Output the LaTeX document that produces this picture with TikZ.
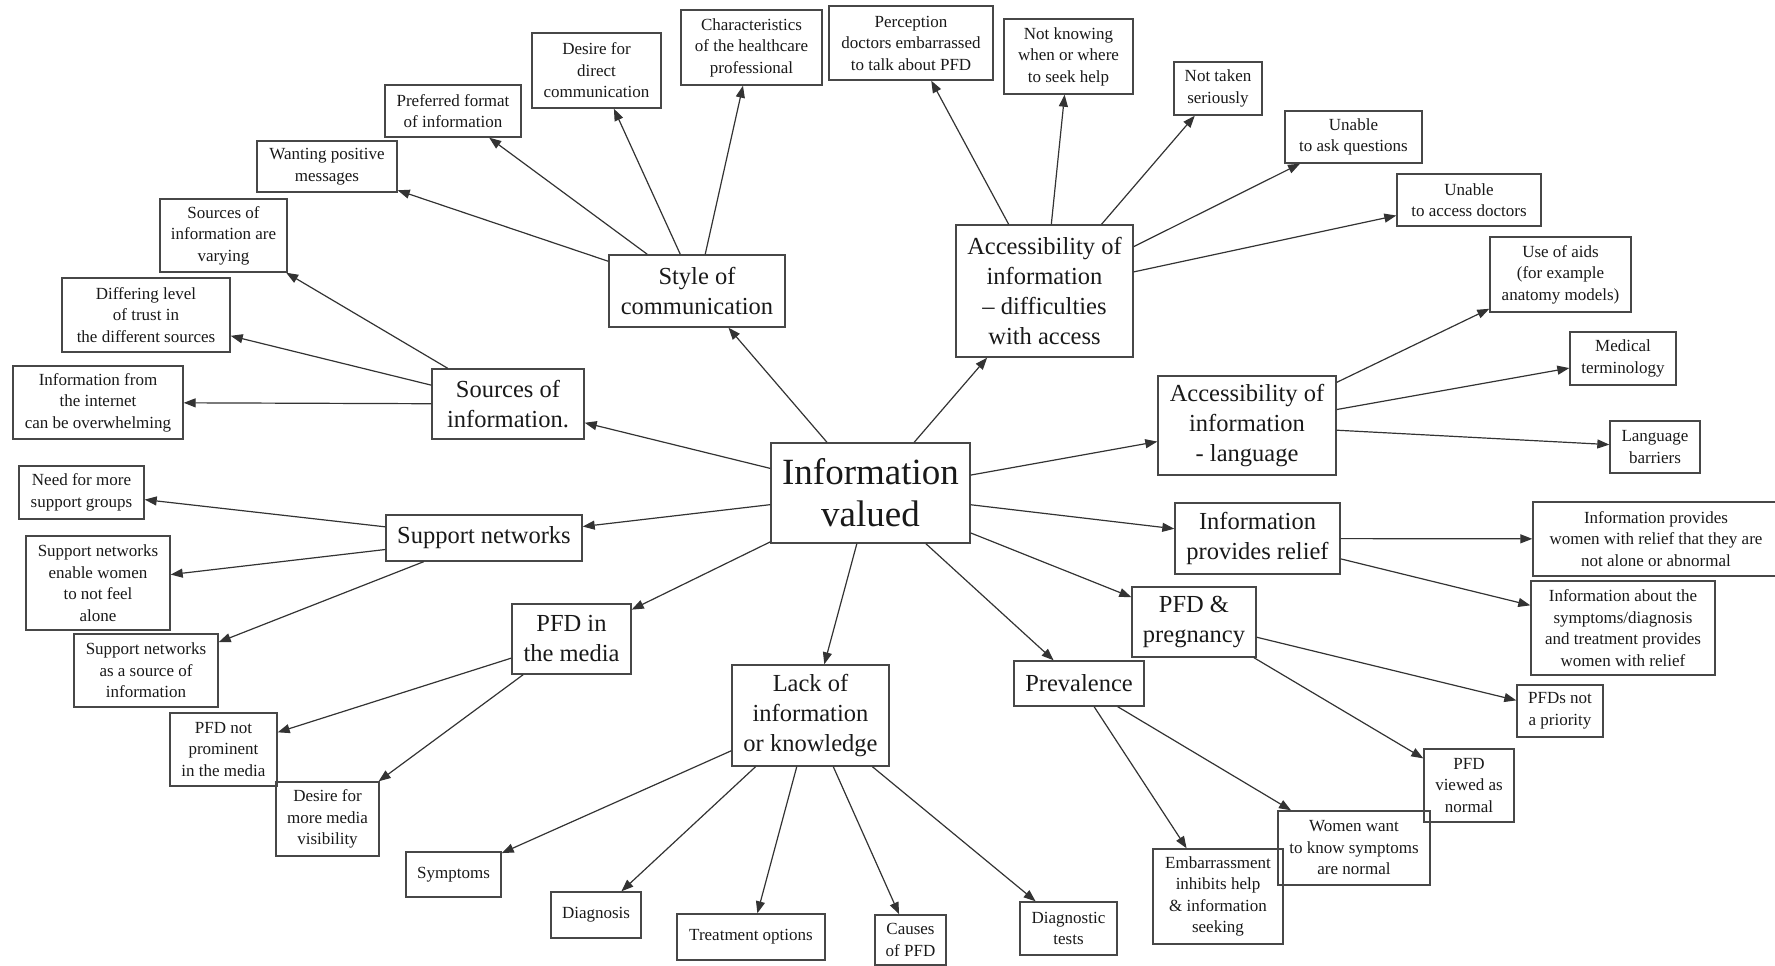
\documentclass[tikz,border=0pt]{standalone}
\usepackage{fontspec}
\setmainfont{Liberation Serif}
\usetikzlibrary{arrows.meta}
\begin{document}
\begin{tikzpicture}[x=1pt,y=-1pt,
  box/.style={draw=black!72, line width=1.4pt, align=center, inner sep=1pt, text=black!90},
  sm/.style={box, font=\fontsize{17}{21.5}\selectfont},
  md/.style={box, font=\fontsize{24.5}{30}\selectfont},
  bg/.style={box, font=\fontsize{37}{42}\selectfont},
  sz/.style 2 args={minimum width=#1pt, minimum height=#2pt},
  arr/.style={draw=black!80, line width=1.2pt, -{Triangle[length=12pt,width=9pt]}}]
\useasboundingbox (0,0) rectangle (1775,966);
% main
\node[bg, sz={199}{100}] (center) at (870.5,493) {Information\\valued};
% first level
\node[md, sz={152}{70}] (sources) at (508,404) {Sources of\\information.};
\node[md, sz={176}{72}] (style) at (697,291) {Style of\\communication};
\node[md, sz={177}{132}] (accdiff) at (1044.5,291) {Accessibility of\\information\\– difficulties\\with access};
\node[md, sz={178}{99}] (acclang) at (1247,425.5) {Accessibility of\\information\\- language};
\node[md, sz={165}{71}] (relief) at (1257.5,538.5) {Information\\provides relief};
\node[md, sz={124}{70}] (preg) at (1194,622) {PFD \&\\pregnancy};
\node[md, sz={130}{45}] (prev) at (1079,683.5) {Prevalence};
\node[md, sz={157}{101}] (lack) at (810.5,715.5) {Lack of\\information\\or knowledge};
\node[md, sz={119}{70}] (media) at (571.5,639) {PFD in\\the media};
\node[md, sz={196}{46}] (support) at (484,538) {Support networks};
% second level
\node[sm, sz={170}{73}] (internet) at (98,402.5) {Information from\\the internet\\can be overwhelming};
\node[sm, sz={168}{74}] (differing) at (146,315) {Differing level\\of trust in\\the different sources};
\node[sm, sz={127}{73}] (varying) at (223.5,235.5) {Sources of\\information are\\varying};
\node[sm, sz={140}{51}] (wantpos) at (327,166.5) {Wanting positive\\messages};
\node[sm, sz={136}{52}] (prefformat) at (453,111) {Preferred format\\of information};
\node[sm, sz={129}{75}] (desire) at (596.5,70.5) {Desire for\\direct\\communication};
\node[sm, sz={141}{75}] (charac) at (751.5,47.5) {Characteristics\\of the healthcare\\professional};
\node[sm, sz={164}{74}] (perception) at (911,43) {Perception\\doctors embarrassed\\to talk about PFD};
\node[sm, sz={129}{75}] (notknowing) at (1068.5,56.5) {Not knowing\\when or where\\to seek help};
\node[sm, sz={88}{53}] (nottaken) at (1218,88.5) {Not taken\\seriously};
\node[sm, sz={137}{52}] (askq) at (1353.5,137) {Unable\\to ask questions};
\node[sm, sz={144}{52}] (accessdoc) at (1469,200) {Unable\\to access doctors};
\node[sm, sz={141}{75}] (useaids) at (1560.5,274.5) {Use of aids\\(for example\\anatomy models)};
\node[sm, sz={106}{53}] (medterm) at (1623,358.5) {Medical\\terminology};
\node[sm, sz={90}{52}] (langbar) at (1655,447) {Language\\barriers};
\node[sm, sz={246}{74}] (provwomen) at (1656,539) {Information provides\\women with relief that they are\\not alone or abnormal};
\node[sm, sz={184}{94}] (infoabout) at (1623,628) {Information about the\\symptoms/diagnosis\\and treatment provides\\women with relief};
\node[sm, sz={86}{52}] (notpriority) at (1560,711) {PFDs not\\a priority};
\node[sm, sz={90}{73}] (viewednormal) at (1469,785.5) {PFD\\viewed as\\normal};
\node[sm, sz={152}{74}] (womenwant) at (1354,848) {Women want\\to know symptoms\\are normal};
\node[sm, sz={130}{95}] (embarr) at (1218,896.5) {Embarrassment\\inhibits help\\\& information\\seeking};
\node[sm, sz={97}{53}] (diagtests) at (1068.5,928.5) {Diagnostic\\tests};
\node[sm, sz={71}{50}] (causes) at (910.5,940) {Causes\\of PFD};
\node[sm, sz={148}{46}] (treatment) at (751,937) {Treatment options};
\node[sm, sz={90}{46}] (diagnosis) at (596,915) {Diagnosis};
\node[sm, sz={95}{45}] (symptoms) at (453.5,874.5) {Symptoms};
\node[sm, sz={103}{74}] (desiremedia) at (327.5,819) {Desire for\\more media\\visibility};
\node[sm, sz={107}{73}] (notprom) at (223.5,749.5) {PFD not\\prominent\\in the media};
\node[sm, sz={144}{73}] (snsource) at (146,670.5) {Support networks\\as a source of\\information};
\node[sm, sz={144}{94}] (snenable) at (98,583) {Support networks\\enable women\\to not feel\\alone};
\node[sm, sz={125}{53}] (needmore) at (81.5,492.5) {Need for more\\support groups};
% connectors
\foreach \t in {sources,style,accdiff,acclang,relief,preg,prev,lack,media,support}
  \draw[arr] (center) -- (\t);
\foreach \t in {internet,differing,varying} \draw[arr] (sources) -- (\t);
\foreach \t in {wantpos,prefformat,desire,charac} \draw[arr] (style) -- (\t);
\foreach \t in {perception,notknowing,nottaken,askq,accessdoc} \draw[arr] (accdiff) -- (\t);
\foreach \t in {useaids,medterm,langbar} \draw[arr] (acclang) -- (\t);
\foreach \t in {provwomen,infoabout} \draw[arr] (relief) -- (\t);
\foreach \t in {notpriority,viewednormal} \draw[arr] (preg) -- (\t);
\foreach \t in {embarr,womenwant} \draw[arr] (prev) -- (\t);
\foreach \t in {symptoms,diagnosis,treatment,causes,diagtests} \draw[arr] (lack) -- (\t);
\foreach \t in {notprom,desiremedia} \draw[arr] (media) -- (\t);
\foreach \t in {needmore,snenable,snsource} \draw[arr] (support) -- (\t);
\end{tikzpicture}
\end{document}
